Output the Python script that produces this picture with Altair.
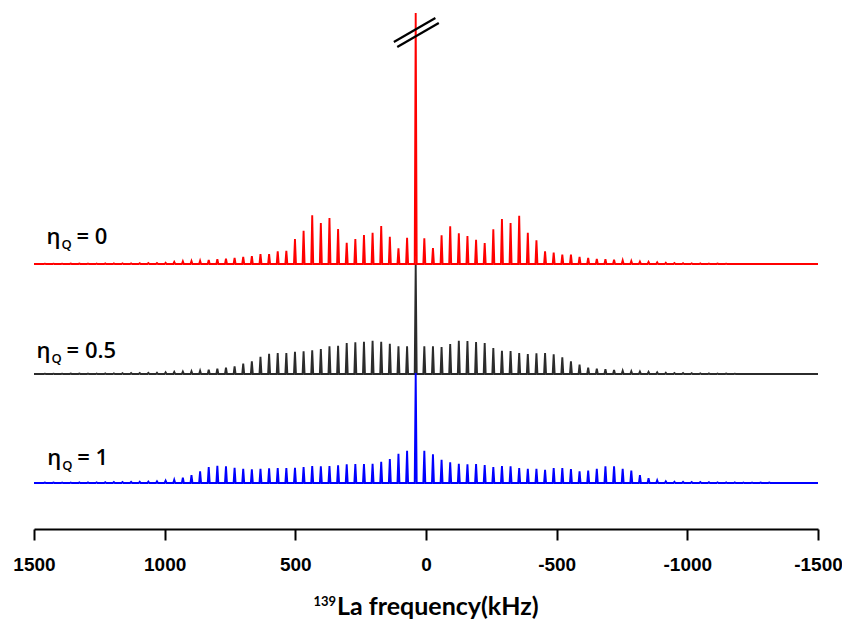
import altair as alt
import pandas as pd

# ---------------- data ----------------
SPIN_RATE = 33.0        # kHz, spacing of spinning sidebands
CENTER = 39.4           # kHz, position of the central transition
PEAK_HALF_WIDTH = 3.8   # kHz

traces = ["ηQ = 0.5", "ηQ = 1", "ηQ = 0"]
offsets = {"ηQ = 0": 265, "ηQ = 0.5": 155, "ηQ = 1": 46}
colors = {"ηQ = 0": "#ff0000", "ηQ = 0.5": "#2b2b2b", "ηQ = 1": "#0000ff"}
center_height = {"ηQ = 0": 251, "ηQ = 0.5": 110, "ηQ = 1": 110}

# sideband intensities, k = 1, 2, ... away from centre
red_left = [26.3, 15.7, 27.3, 38, 31.3, 29, 25, 21.3, 35, 46, 41, 48.7, 33.3, 25,
            13.3, 12.7, 10, 10, 8, 7, 6, 5.3, 4.7, 4, 3.3, 3, 2.7, 2, 1.3, 1,
            0.9, 0.8, 0.7, 0.7, 0.6, 0.6, 0.5, 0.5, 0.4, 0.4, 0.3, 0.3, 0.3]
red_right = [25.7, 16, 28.7, 37.7, 30.7, 28, 24.3, 21, 34.7, 45, 41, 48.3, 31.3, 23.7,
             12.7, 11.3, 9.3, 9.3, 7, 6, 5, 4.7, 4.3, 3.7, 3, 2.3, 2, 1.7, 1.3, 1,
             0.8, 0.7, 0.6, 0.5, 0.4, 0.3]
black_left = [27.7, 27.7, 30.3, 32.3, 33.3, 32.3, 31.7, 31, 28.3, 27.7, 25, 23.7, 22.7,
              22.3, 21, 21, 20.3, 17.3, 12.7, 10.3, 7.7, 6.3, 5.3, 4.3, 3.3, 2.7, 2.3,
              2, 1.7, 1.3, 1.1, 1, 0.9, 0.8, 0.7, 0.6, 0.5, 0.5, 0.4, 0.4, 0.3, 0.3, 0.3]
black_right = [27.7, 27.7, 27, 30, 33.3, 33, 32, 31, 26, 23.3, 23, 21, 20, 20.7, 21,
               19.7, 16.7, 12.7, 9.3, 6.3, 5.3, 4.7, 4, 3.3, 2.7, 2.3, 2, 1.7, 1.3, 1,
               0.9, 0.8, 0.7, 0.6, 0.5, 0.4, 0.3]
blue_left = [32.3, 29.3, 24, 21.3, 19.3, 19, 19, 18.7, 17.7, 17, 16.7, 17, 16, 15.3, 15,
             15, 14.7, 14.3, 13.7, 14.3, 15.3, 16.7, 17.3, 16, 11.7, 8, 5.3, 3.3, 2.3,
             1.7, 1.4, 1.2, 1.1, 1, 0.9, 0.8, 0.7, 0.6, 0.6, 0.5, 0.5, 0.4, 0.4]
blue_right = [32.3, 28.7, 23.3, 20.7, 19.3, 18.7, 19, 18, 16, 17, 16.7, 15, 14.3, 14.3,
              13.3, 15, 15, 14, 11.7, 12.3, 14.3, 16.7, 16.7, 14.3, 12.3, 8, 4.7, 2.7,
              1.7, 1.3, 1.1, 1, 0.9, 0.8, 0.7, 0.6, 0.6, 0.5, 0.5, 0.4, 0.4]

sidebands = {
    "ηQ = 0": (red_left, red_right),
    "ηQ = 0.5": (black_left, black_right),
    "ηQ = 1": (blue_left, blue_right),
}

x_ticks = [1500, 1000, 500, 0, -500, -1000, -1500]

label_values = ["= 0", "= 0.5", "= 1"]
label_x = [1452, 1490, 1449]   # kHz, left edge of the label
label_y = [285, 171, 64]       # intensity units, text baseline

# axis-break symbol on the truncated central peak
break_x = [123, 110]
break_x2 = [-36, -49]
break_y = [487, 482]
break_y2 = [511, 506]

title_iso = "139"
title_main = "La frequency(kHz)"

# ---------------- build tables ----------------
rows = []
for name in traces:
    base = offsets[name]
    left, right = sidebands[name]
    peaks = []
    for k in range(len(left), 0, -1):
        peaks.append((CENTER + k * SPIN_RATE, left[k - 1]))
    peaks.append((CENTER, center_height[name]))
    for k in range(1, len(right) + 1):
        peaks.append((CENTER - k * SPIN_RATE, right[k - 1]))
    pts = [(1500, base)]
    for pos, h in peaks:
        pts += [(pos + PEAK_HALF_WIDTH, base), (pos, base + h), (pos - PEAK_HALF_WIDTH, base)]
    pts.append((-1500, base))
    for i, (f, y) in enumerate(pts):
        rows.append({"trace": name, "freq": f, "intensity": y, "order": i})
spec = pd.DataFrame(rows)

labels = pd.DataFrame({"value": label_values, "x": label_x, "y": label_y})
breaks = pd.DataFrame({"x": break_x, "x2": break_x2, "y": break_y, "y2": break_y2})

# ---------------- chart ----------------
xscale = alt.Scale(domain=[-1500, 1500], reverse=True, nice=False, zero=False)
yscale = alt.Scale(domain=[0, 521], nice=False, zero=False)

xaxis = alt.Axis(
    values=x_ticks, labelExpr="'' + datum.value", grid=False,
    domainColor="black", domainWidth=2, tickColor="black", tickWidth=2, tickSize=11,
    labelFont="Liberation Sans", labelFontSize=19, labelFontWeight="bold",
    labelColor="black", labelPadding=15, labelFlush=False, labelOverlap=False,
    title=None,
)

layers = []
for name in traces:
    d = spec[spec["trace"] == name]
    layers.append(
        alt.Chart(d).mark_line(color=colors[name], strokeWidth=1.9, clip=True).encode(
            x=alt.X("freq:Q", scale=xscale, axis=xaxis),
            y=alt.Y("intensity:Q", scale=yscale, axis=None),
            order="order:Q",
        )
    )

rule = alt.Chart(breaks).mark_rule(color="black", strokeWidth=2.2).encode(
    x=alt.X("x:Q", scale=xscale), x2="x2:Q",
    y=alt.Y("y:Q", scale=yscale), y2="y2:Q",
)

font = "Open Sans"
eta = alt.Chart(labels).mark_text(
    text="η", align="left", baseline="alphabetic", font=font, fontSize=22,
    fontWeight=600, color="black"
).encode(x=alt.X("x:Q", scale=xscale), y=alt.Y("y:Q", scale=yscale))
sub = alt.Chart(labels).mark_text(
    text="Q", align="left", baseline="alphabetic", font=font, fontSize=13,
    fontWeight=600, color="black", dx=15, dy=5,
).encode(x=alt.X("x:Q", scale=xscale), y=alt.Y("y:Q", scale=yscale))
val = alt.Chart(labels).mark_text(
    align="left", baseline="alphabetic", font=font, fontSize=22, fontWeight=600,
    color="black", dx=30,
).encode(x=alt.X("x:Q", scale=xscale), y=alt.Y("y:Q", scale=yscale), text="value:N")

title_main_mark = alt.Chart(pd.DataFrame({"t": [title_main]})).mark_text(
    align="left", baseline="alphabetic", font="Lato", fontSize=25, fontWeight="bold",
    color="black",
).encode(x=alt.value(303), y=alt.value(607), text="t:N")
title_iso_mark = alt.Chart(pd.DataFrame({"t": [title_iso]})).mark_text(
    align="right", baseline="alphabetic", font="Lato", fontSize=13, fontWeight="bold",
    color="black",
).encode(x=alt.value(302), y=alt.value(598), text="t:N")

chart = alt.layer(*layers, rule, eta, sub, val, title_main_mark, title_iso_mark).properties(
    width=784, height=521,
    padding={"left": 26, "top": 0, "right": 24, "bottom": 91},
    autosize="none",
).configure_view(stroke=None)

chart.save("out.html", embed_options={"renderer": "svg", "actions": False})
